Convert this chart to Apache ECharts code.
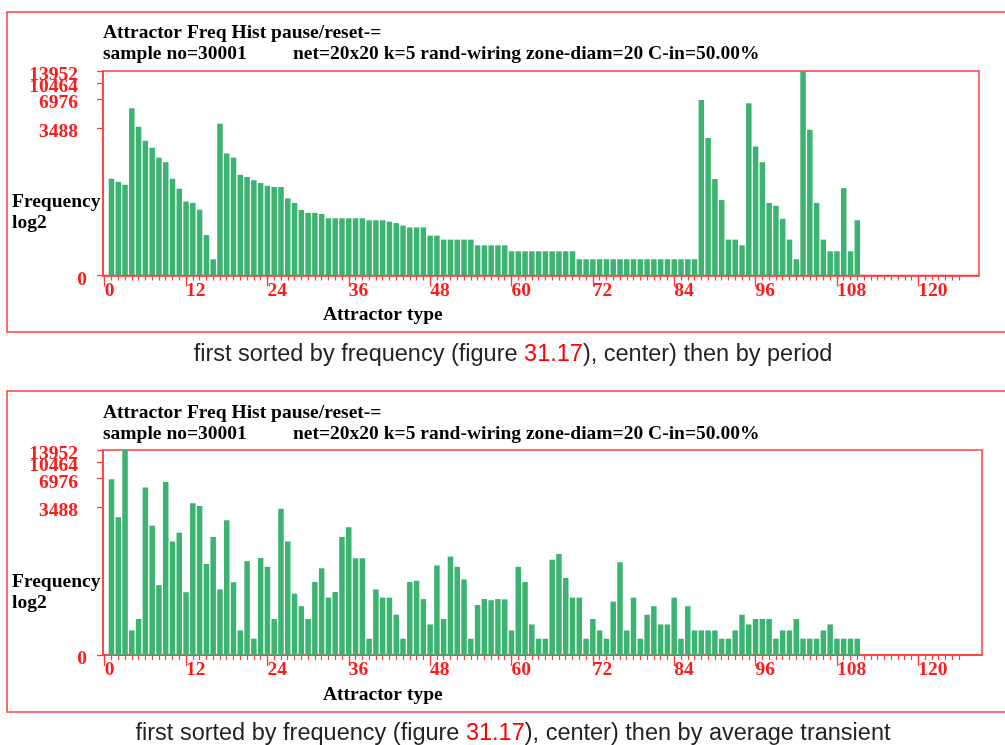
<!DOCTYPE html>
<html>
<head>
<meta charset="utf-8">
<title>Attractor Freq Hist</title>
<script src="https://cdn.jsdelivr.net/npm/echarts@6/dist/echarts.min.js"></script>
<style>
  html, body { margin: 0; padding: 0; background: #ffffff; }
  #chart { width: 1005px; height: 745px; }
</style>
</head>
<body>
<div id="chart"></div>
<script>
// Attractor frequencies, plotted on a log2 scale (values are log2 of the frequency).
// Panel A: sorted by frequency, then by period.
const freqLog2ByPeriod = [
  9.98, 9.87, 9.77, 12.46, 11.81, 11.32, 11.07, 10.72, 10.56, 9.98,
  9.63, 9.18, 9.13, 8.89, 8.00, 7.15, 11.91, 10.87, 10.72, 10.12,
  10.04, 9.93, 9.83, 9.73, 9.69, 9.69, 9.29, 9.13, 8.88, 8.78,
  8.78, 8.74, 8.59, 8.59, 8.59, 8.59, 8.59, 8.59, 8.52, 8.52,
  8.52, 8.47, 8.42, 8.33, 8.27, 8.27, 8.27, 7.98, 7.98, 7.84,
  7.84, 7.84, 7.84, 7.84, 7.64, 7.64, 7.64, 7.64, 7.64, 7.43,
  7.43, 7.43, 7.43, 7.43, 7.43, 7.43, 7.43, 7.43, 7.43, 7.15,
  7.15, 7.15, 7.15, 7.15, 7.15, 7.15, 7.15, 7.15, 7.15, 7.15,
  7.15, 7.15, 7.15, 7.15, 7.15, 7.15, 7.15, 12.75, 11.41, 9.97,
  9.23, 7.84, 7.84, 7.64, 12.63, 11.11, 10.56, 9.13, 9.03, 8.57,
  7.84, 7.15, 13.77, 11.70, 9.13, 7.84, 7.43, 7.43, 9.65, 7.43,
  8.52
];

// Panel B: sorted by frequency, then by average transient.
const freqLog2ByTransient = [
  12.74, 11.41, 13.77, 7.44, 7.84, 12.45, 11.11, 9.03, 12.65, 10.56,
  10.87, 8.78, 11.90, 11.80, 9.77, 10.72, 8.88, 11.30, 9.13, 7.44,
  9.87, 7.15, 9.98, 9.67, 7.84, 11.71, 10.56, 8.73, 8.29, 7.84,
  9.14, 9.62, 8.59, 8.79, 10.72, 11.06, 9.97, 9.97, 7.15, 8.88,
  8.59, 8.59, 7.99, 7.15, 9.14, 9.18, 8.54, 7.65, 9.72, 7.84,
  10.03, 9.67, 9.23, 7.15, 8.33, 8.54, 8.50, 8.54, 8.53, 7.44,
  9.67, 9.14, 7.65, 7.15, 7.15, 9.92, 10.12, 9.28, 8.59, 8.59,
  7.15, 7.84, 7.44, 7.15, 8.45, 9.83, 7.44, 8.59, 7.15, 7.99,
  8.29, 7.65, 7.65, 8.59, 7.15, 8.29, 7.44, 7.44, 7.44, 7.44,
  7.15, 7.15, 7.44, 7.99, 7.65, 7.84, 7.84, 7.84, 7.15, 7.44,
  7.44, 7.84, 7.15, 7.15, 7.15, 7.44, 7.65, 7.15, 7.15, 7.15,
  7.15
];

// Frequency tick labels on the y axis (0 marks the axis floor).
const yTickFreqs = [0, 3488, 6976, 10464, 13952];
// Attractor-type tick labels on the x axis.
const xTickLabels = [0, 12, 24, 36, 48, 60, 72, 84, 96, 108, 120];

const titleLine1 = 'Attractor Freq Hist pause/reset-=';
const titleSample = 'sample no=30001';
const titleNet = 'net=20x20 k=5 rand-wiring zone-diam=20 C-in=50.00%';
const captionA = ['first sorted by frequency (figure ', '31.17', '), center) then by period'];
const captionB = ['first sorted by frequency (figure ', '31.17', '), center) then by average transient'];

// Attractor types are numbered from 1 along the x axis.
const typeIndex = n => Array.from({ length: n }, (_, i) => i + 1);

const RED = '#ff1a1a';
const LINE_RED = '#ff3b3b';
const GREEN = '#3cb371';
const SERIF = '"Liberation Serif", "DejaVu Serif", serif';
const SANS = '"Liberation Sans", "DejaVu Sans", sans-serif';
const FS = 19.5;

const yMax = Math.log2(13952);
const yMin = yMax - 7.19;
const toLog = f => (f === 0 ? yMin : Math.log2(f));
// The 10464 label sits close to 13952, so it lives on its own overlay axis
// (labels on one axis that collide would otherwise be dropped).
const yTicksMain = yTickFreqs.filter(f => f !== 10464).map(toLog);
const yTicksOverlay = yTickFreqs.filter(f => f === 10464).map(toLog);
const minorTicks = Array.from({ length: 127 }, (_, i) => i);

const chart = echarts.init(document.getElementById('chart'), null, { renderer: 'canvas' });

function yLabelStyle(values) {
  return {
    show: true, customValues: values, margin: 16, hideOverlap: false,
    showMinLabel: true, showMaxLabel: true,
    color: RED, fontFamily: SERIF, fontWeight: 'bold', fontSize: FS,
    formatter: v => (Math.abs(v - yMin) < 1e-6 ? '{z|0}' : '{n|' + Math.round(Math.pow(2, v)) + '}'),
    rich: {
      n: { color: RED, fontFamily: SERIF, fontWeight: 'bold', fontSize: FS, lineHeight: 12, padding: [8, 9, 0, 0] },
      z: { color: RED, fontFamily: SERIF, fontWeight: 'bold', fontSize: FS, lineHeight: 12, padding: [8, 0, 0, 0] }
    }
  };
}

function panelAxes(gridIndex, xMax) {
  const xMajor = {
    type: 'value', gridIndex, position: 'bottom', min: -0.25, max: xMax,
    axisLine: { show: true, onZero: false, lineStyle: { color: LINE_RED, width: 1.5 } },
    axisTick: { show: true, customValues: xTickLabels, length: 11, lineStyle: { color: LINE_RED, width: 1.3 } },
    axisLabel: {
      show: true, customValues: xTickLabels, align: 'left', margin: 5,
      showMinLabel: true, showMaxLabel: true,
      color: RED, fontFamily: SERIF, fontWeight: 'bold', fontSize: FS, hideOverlap: false
    },
    splitLine: { show: false }
  };
  const xMinor = {
    type: 'value', gridIndex, position: 'bottom', min: -0.25, max: xMax,
    axisLine: { show: false, onZero: false },
    axisTick: { show: true, customValues: minorTicks, length: 5, lineStyle: { color: LINE_RED, width: 1.2 } },
    axisLabel: { show: false },
    splitLine: { show: false }
  };
  const y = {
    type: 'value', gridIndex, position: 'left', offset: 0, min: yMin, max: yMax,
    axisLine: { show: true, onZero: false, lineStyle: { color: LINE_RED, width: 1.5 } },
    axisTick: { show: true, customValues: yTicksMain, length: 6, lineStyle: { color: LINE_RED, width: 1.3 } },
    axisLabel: yLabelStyle(yTicksMain),
    splitLine: { show: false }
  };
  const yOverlay = {
    type: 'value', gridIndex, position: 'left', offset: 0, min: yMin, max: yMax,
    axisLine: { show: false, onZero: false },
    axisTick: { show: true, customValues: yTicksOverlay, length: 6, lineStyle: { color: LINE_RED, width: 1.3 } },
    axisLabel: yLabelStyle(yTicksOverlay),
    splitLine: { show: false }
  };
  return { xMajor, xMinor, y, yOverlay };
}

const pA = panelAxes(0, 128.95);
const pB = panelAxes(1, 129.4);

function textTitle(text, left, top, extra) {
  return Object.assign({
    text, left, top, padding: 0, itemGap: 0,
    textStyle: { color: '#000', fontFamily: SERIF, fontWeight: 'bold', fontSize: FS }
  }, extra || {});
}

function captionTitle(parts, top) {
  return {
    text: '{a|' + parts[0] + '}{r|' + parts[1] + '}{a|' + parts[2] + '}',
    left: 513, top, textAlign: 'center', padding: 0,
    textStyle: {
      fontWeight: 'normal',
      rich: {
        a: { color: '#222', fontFamily: SANS, fontSize: 23.5, fontWeight: 'normal' },
        r: { color: '#ff0000', fontFamily: SANS, fontSize: 23.5, fontWeight: 'normal' }
      }
    }
  };
}

function panelTitles(dy, caption) {
  return [
    textTitle(titleLine1, 103, 23 + dy),
    textTitle(titleSample, 103, 44 + dy),
    textTitle(titleNet, 293, 44 + dy),
    textTitle('Frequency\nlog2', 12, 191.5 + dy, {
      textStyle: { color: '#000', fontFamily: SERIF, fontWeight: 'bold', fontSize: FS, lineHeight: 21 }
    }),
    textTitle('Attractor type', 323, 305 + dy),
    captionTitle(caption, 342.5 + dy)
  ];
}

function barSeries(values, xAxisIndex, yAxisIndex) {
  const xs = typeIndex(values.length);
  return {
    type: 'bar', xAxisIndex, yAxisIndex, clip: true,
    barWidth: 5.5,
    itemStyle: { color: GREEN },
    data: values.map((v, i) => [xs[i], v]),
    animation: false
  };
}

chart.setOption({
  animation: false,
  backgroundColor: '#ffffff',
  title: panelTitles(0, captionA).concat(panelTitles(379.5, captionB)),
  grid: [
    { left: 103, top: 71, width: 876, height: 204.5, show: true, borderColor: LINE_RED, borderWidth: 1.5,
      backgroundColor: 'transparent', containLabel: false, outerBoundsMode: 'none' },
    { left: 103, top: 450, width: 879, height: 205, show: true, borderColor: LINE_RED, borderWidth: 1.5,
      backgroundColor: 'transparent', containLabel: false, outerBoundsMode: 'none' }
  ],
  xAxis: [pA.xMajor, pA.xMinor, pB.xMajor, pB.xMinor],
  yAxis: [pA.y, pA.yOverlay, pB.y, pB.yOverlay],
  series: [
    barSeries(freqLog2ByPeriod, 0, 0),
    barSeries(freqLog2ByTransient, 2, 2)
  ],
  graphic: [
    { type: 'rect', silent: true, shape: { x: 7, y: 12, width: 1100, height: 320 },
      style: { fill: 'none', stroke: LINE_RED, lineWidth: 1.5 } },
    { type: 'rect', silent: true, shape: { x: 7, y: 391, width: 1100, height: 321 },
      style: { fill: 'none', stroke: LINE_RED, lineWidth: 1.5 } }
  ]
});
</script>
</body>
</html>
